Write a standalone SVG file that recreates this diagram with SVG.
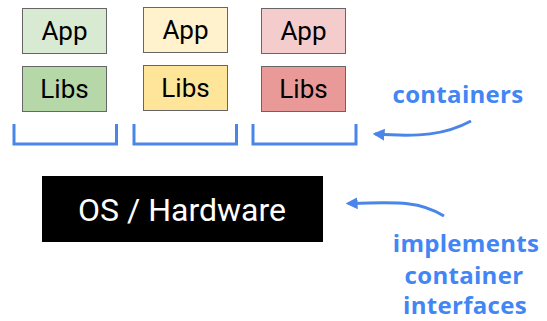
<svg xmlns="http://www.w3.org/2000/svg" width="547" height="321" viewBox="0 0 547 321">
<style>
.box{stroke:#666;stroke-width:1}
.lbl{font-family:Roboto,"Liberation Sans",sans-serif;font-size:26px;fill:#000;text-anchor:middle}
.brk{fill:none;stroke:#4a86e8;stroke-width:3}
.note{font-family:"Open Sans","Liberation Sans",sans-serif;font-weight:bold;font-size:24px;letter-spacing:0.3px;fill:#4285f4;text-anchor:middle}
.arr{fill:none;stroke:#4a86e8;stroke-width:3;marker-end:url(#ah)}
</style>
<defs>
<marker id="ah" viewBox="0 0 10 10" refX="8" refY="5" markerWidth="4" markerHeight="4" orient="auto" markerUnits="strokeWidth">
<path d="M0,0 L10,5 L0,10 z" fill="#4a86e8"/>
</marker>
</defs>
<rect width="547" height="321" fill="#fff"/>
<g id="app1"><rect class="box" x="22.5" y="8.5" width="84" height="45" fill="#d9ead3"/><text class="lbl" x="64.5" y="40">App</text></g>
<g id="libs1"><rect class="box" x="22.5" y="66.5" width="84" height="45" fill="#b6d7a8"/><text class="lbl" x="64.5" y="98">Libs</text></g>
<g id="app2"><rect class="box" x="143.5" y="7.5" width="84" height="45" fill="#fff2cc"/><text class="lbl" x="185.5" y="39">App</text></g>
<g id="libs2"><rect class="box" x="143.5" y="65.5" width="84" height="45" fill="#ffe599"/><text class="lbl" x="185.5" y="97">Libs</text></g>
<g id="app3"><rect class="box" x="261.5" y="8.5" width="84" height="45" fill="#f4cccc"/><text class="lbl" x="303.5" y="40">App</text></g>
<g id="libs3"><rect class="box" x="261.5" y="66.5" width="84" height="45" fill="#ea9999"/><text class="lbl" x="303.5" y="98">Libs</text></g>
<g id="brackets">
<path class="brk" d="M14,124 V144 H116.5 V124"/>
<path class="brk" d="M134,124 V144 H236.5 V124"/>
<path class="brk" d="M253,124 V144 H356 V124"/>
</g>
<g id="os"><rect x="42" y="176" width="281" height="66" fill="#000"/><text x="182" y="221" font-family="Roboto,'Liberation Sans',sans-serif" font-size="32" fill="#fff" text-anchor="middle">OS / Hardware</text></g>
<g id="label-containers"><text class="note" x="458" y="103">containers</text></g>
<g id="label-implements"><text class="note" x="466" y="252">implements</text><text class="note" x="464" y="284">container</text><text class="note" x="465" y="314">interfaces</text></g>
<g id="connectors">
<path class="arr" d="M471,121 C445,135 420,137 375,134"/>
<path class="arr" d="M444,216 C420,201 400,202 348,203.5"/>
</g>
</svg>
